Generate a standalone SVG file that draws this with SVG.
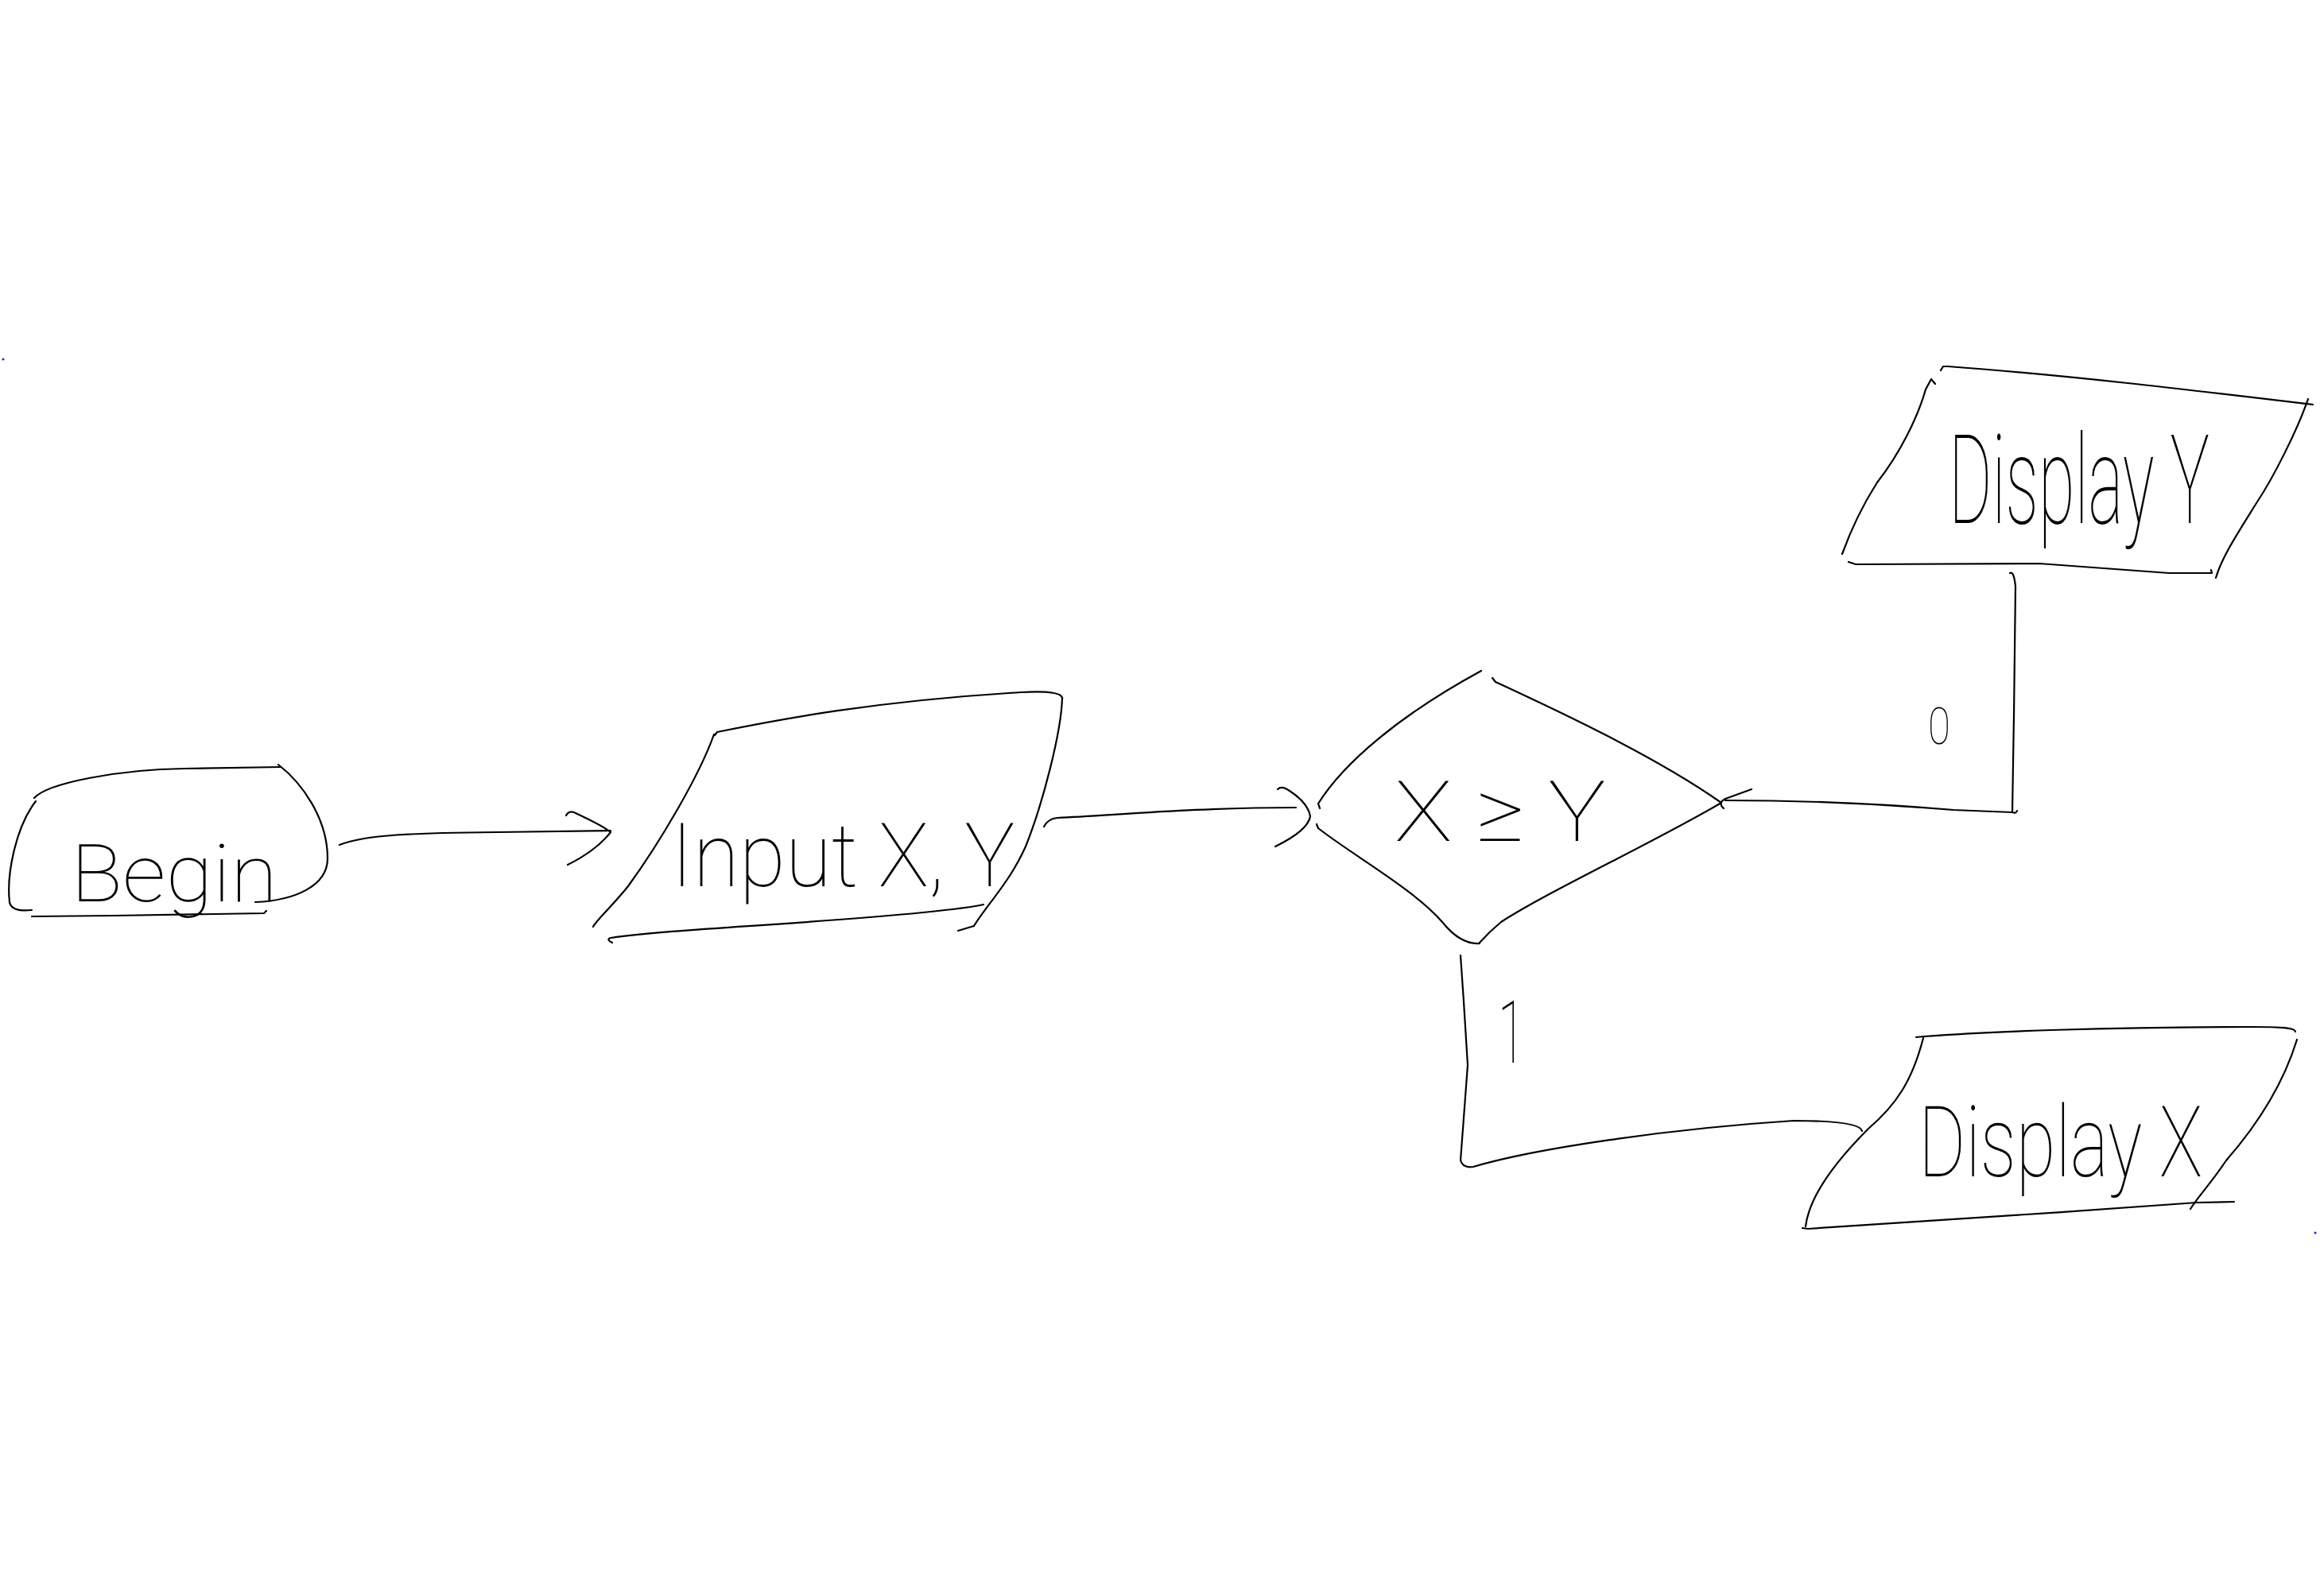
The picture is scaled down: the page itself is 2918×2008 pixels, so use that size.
<svg xmlns="http://www.w3.org/2000/svg" width="2918" height="2008" viewBox="0 0 2918 2008">
  <style>
    .ink { fill: none; stroke: #000; stroke-width: 2.2; stroke-linecap: round; stroke-linejoin: round; }
    .hand { font-family: Roboto, "Liberation Sans", sans-serif; font-weight: 100; fill: #000; }
    .dot { fill: #1a1aff; }
  </style>
  <rect width="2918" height="2008" fill="#fff"/>

  <!-- Start terminal -->
  <g id="node-begin">
    <path class="ink" d="M43,1004 C60,985 150,968 232,967 L352,965"/>
    <path class="ink" d="M350,962 C380,985 412,1030 412,1080 C412,1115 370,1133 321,1135"/>
    <path class="ink" d="M45,1008 C20,1040 8,1100 12,1135 C14,1146 30,1146 40,1145"/>
    <path class="ink" d="M40,1153 L143,1152 L332,1149 L335,1146"/>
    <text class="hand" x="89" y="1134" font-size="100" textLength="260" lengthAdjust="spacingAndGlyphs">Begin</text>
  </g>

  <!-- Input step -->
  <g id="node-input">
    <path class="ink" d="M899,925 L902,921 C980,905 1100,882 1284,871 C1320,869 1338,872 1336,880"/>
    <path class="ink" d="M898,924 C880,975 830,1060 790,1115 C770,1140 748,1160 746,1166"/>
    <path class="ink" d="M1336,878 C1335,920 1312,1010 1290,1065 C1270,1110 1240,1140 1225,1165 L1205,1171"/>
    <path class="ink" d="M770,1186 Q762,1182 768,1180 C850,1168 1000,1164 1161,1148 C1200,1144 1225,1141 1237,1138"/>
    <text class="hand" transform="translate(844,1115) scale(0.85,1)" font-size="112" textLength="509" lengthAdjust="spacingAndGlyphs">Input X, Y</text>
  </g>

  <!-- Decision -->
  <g id="node-decision">
    <path class="ink" d="M1660,1017 L1658,1011 C1690,960 1760,900 1863,844"/>
    <path class="ink" d="M1877,853 L1881,858 C1950,890 2080,950 2165,1010"/>
    <path class="ink" d="M2165,1010 C2080,1060 1950,1120 1888,1160 C1870,1175 1862,1185 1860,1187"/>
    <path class="ink" d="M1656,1037 L1658,1042 C1700,1075 1780,1120 1814,1160 C1830,1180 1845,1188 1861,1187"/>
    <text class="hand" x="1754" y="1058" font-size="105" textLength="266" lengthAdjust="spacingAndGlyphs">X ≥ Y</text>
  </g>

  <!-- Output for the false branch -->
  <g id="node-display-y">
    <path class="ink" d="M2441,466 L2444,461 L2450,461 C2600,472 2750,490 2909,509"/>
    <path class="ink" d="M2434,483 L2429,477 L2422,490 C2412,525 2390,570 2361,607 C2340,640 2325,675 2317,697"/>
    <path class="ink" d="M2903,502 C2890,540 2860,600 2838,633 C2815,670 2795,700 2787,727"/>
    <path class="ink" d="M2325,707 L2334,710 L2565,709 L2728,721 L2782,721 L2781,717"/>
    <text class="hand" transform="translate(2451,658) scale(0.52,1)" font-size="155" textLength="631" lengthAdjust="spacingAndGlyphs">Display Y</text>
  </g>

  <!-- Output for the true branch -->
  <g id="node-display-x">
    <path class="ink" d="M2410,1305 L2420,1304 C2500,1298 2650,1292 2834,1292 C2870,1292 2887,1293 2887,1298"/>
    <path class="ink" d="M2419,1306 C2405,1360 2385,1390 2350,1420 C2300,1470 2275,1510 2271,1543"/>
    <path class="ink" d="M2889,1308 C2870,1370 2835,1420 2800,1460 C2780,1490 2765,1505 2755,1521"/>
    <path class="ink" d="M2267,1545 L2274,1546 C2400,1538 2600,1525 2763,1513 L2810,1512"/>
    <text class="hand" transform="translate(2413,1480) scale(0.7,1)" font-size="125" textLength="510" lengthAdjust="spacingAndGlyphs">Display X</text>
  </g>

  <!-- Flow lines -->
  <g id="connectors">
    <path class="ink" d="M427,1063 C460,1050 520,1048 625,1047 L768,1045"/>
    <path class="ink" d="M712,1026 Q716,1018 726,1024 Q760,1040 768,1047 Q750,1070 714,1088"/>

    <path class="ink" d="M1313,1040 Q1318,1030 1330,1029 C1400,1026 1500,1016 1630,1016"/>
    <path class="ink" d="M1607,993 Q1612,988 1622,995 Q1645,1010 1648,1027 Q1645,1045 1604,1065"/>

    <path class="ink" d="M2168,1017 Q2160,1010 2170,1005 L2203,993"/>
    <path class="ink" d="M2170,1007 C2250,1007 2350,1010 2457,1019 L2531,1022 Q2536,1024 2537,1020"/>
    <path class="ink" d="M2531,1022 L2533,900 L2535,738 Q2533,718 2528,721"/>
    <text class="hand" x="2425" y="936" font-size="64" textLength="28" lengthAdjust="spacingAndGlyphs">0</text>

    <path class="ink" d="M1837,1202 L1841,1260 L1846,1340 L1837,1460 Q1840,1470 1853,1468 C1930,1445 2100,1420 2256,1410 C2300,1410 2340,1413 2342,1423"/>
    <text class="hand" x="1884" y="1337" font-size="110" textLength="34" lengthAdjust="spacingAndGlyphs">1</text>
  </g>

  <circle class="dot" cx="4" cy="452" r="1.5"/>
  <circle class="dot" cx="2912" cy="1551" r="1.5"/>
</svg>
